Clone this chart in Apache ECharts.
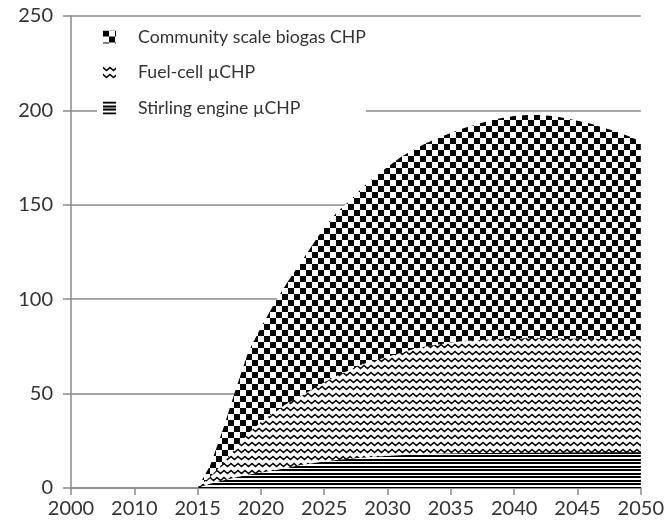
<!DOCTYPE html>
<html>
<head>
<meta charset="utf-8">
<script src="https://cdn.jsdelivr.net/npm/echarts@6/dist/echarts.min.js"></script>
<style>
  html, body { margin: 0; padding: 0; background: #fff; }
  #chart { width: 667px; height: 530px; }
</style>
</head>
<body>
<div id="chart"></div>
<script>
// x axis tick labels (unequal steps, equally spaced like the original)
const tickYears = [2000, 2010, 2015, 2020, 2025, 2030, 2035, 2040, 2045, 2050];
const years = [2015, 2016, 2017, 2018, 2019, 2020, 2021, 2022, 2023, 2024, 2025, 2026,
    2027, 2028, 2029, 2030, 2031, 2032, 2033, 2034, 2035, 2036, 2037, 2038,
    2039, 2040, 2041, 2042, 2043, 2044, 2045, 2046, 2047, 2048, 2049, 2050];
const stirling = [0, 2.3, 4, 5.5, 7, 8.2, 9.3, 10.5, 12, 13, 14, 14.8,
    15.5, 16, 16.5, 17, 17.3, 17.6, 17.9, 18.1, 18.3, 18.4, 18.5, 18.5,
    18.6, 18.6, 18.7, 18.7, 18.7, 18.8, 18.8, 18.8, 18.9, 18.9, 18.9, 18.9];
const fuelCell = [0, 3.7, 9, 15.5, 22, 26.8, 30.7, 34, 36, 39, 42, 44.7,
    47, 49.5, 51, 52.5, 54.2, 55.9, 57.1, 57.9, 58.7, 59.4, 59.8, 60.2,
    60.4, 60.7, 60.6, 60.6, 60.6, 60.4, 60.3, 60.2, 60, 59.9, 59.8, 59.7];
const community = [0, 6, 18, 31, 43, 50, 57, 63.5, 70, 76, 82, 86.5,
    89.5, 93.5, 97.5, 100.5, 103.5, 105.5, 107.5, 109.5, 111, 112.7, 114.2, 115.8,
    117, 117.7, 118.2, 118.2, 117.7, 116.8, 115.4, 114, 112.1, 110.2, 107.8, 104.9];
const names = ['Community scale biogas CHP', 'Fuel-cell \u00b5CHP', 'Stirling engine \u00b5CHP'];

// place a year on the tick index scale
function yearPos(y) {
    for (let i = 0; i < tickYears.length - 1; i++) {
        if (y <= tickYears[i + 1]) {
            return i + (y - tickYears[i]) / (tickYears[i + 1] - tickYears[i]);
        }
    }
    return tickYears.length - 1;
}
// stacked tops, summed by hand (value/value axes stack on x otherwise)
function stackPoints(layers) {
    return years.map(function (y, i) {
        let sum = 0;
        layers.forEach(function (arr) { sum += arr[i]; });
        return [yearPos(y), +sum.toFixed(2)];
    });
}

function makeCanvas(w, h, draw) {
    let c = document.createElement('canvas');
    c.width = w;
    c.height = h;
    let ctx = c.getContext('2d');
    ctx.fillStyle = '#fff';
    ctx.fillRect(0, 0, w, h);
    draw(ctx);
    return c;
}
let checker = makeCanvas(12, 12, function (ctx) {
    ctx.fillStyle = '#000';
    ctx.fillRect(0, 0, 6, 6);
    ctx.fillRect(6, 6, 6, 6);
});
let zigzag = makeCanvas(7, 7, function (ctx) {
    ctx.strokeStyle = '#000';
    ctx.lineWidth = 1.5;
    ctx.beginPath();
    ctx.moveTo(-3.5, 4.5);
    ctx.lineTo(0, 1.5);
    ctx.lineTo(3.5, 4.5);
    ctx.lineTo(7, 1.5);
    ctx.lineTo(10.5, 4.5);
    ctx.stroke();
});
let hlines = makeCanvas(4, 7, function (ctx) {
    ctx.fillStyle = '#000';
    ctx.fillRect(0, 0, 4, 2);
    ctx.fillRect(0, 4, 4, 2);
});
const patterns = {};
patterns[names[0]] = { image: checker, repeat: 'repeat' };
patterns[names[1]] = { image: zigzag, repeat: 'repeat' };
patterns[names[2]] = { image: hlines, repeat: 'repeat' };

let myChart = echarts.init(document.getElementById('chart'));
const gray = '#8a8a8a';
const font = 'Lato';

function areaSeries(name, points) {
    return {
        name: name,
        type: 'line',
        data: points,
        showSymbol: false,
        symbol: 'none',
        lineStyle: { width: 0, opacity: 0 },
        itemStyle: { color: patterns[name] },
        areaStyle: { color: patterns[name], opacity: 1 },
        emphasis: { disabled: true },
        animation: false
    };
}

let option = {
    animation: false,
    grid: { left: 71, right: 25, top: 16, bottom: 42 },
    legend: {
        orient: 'vertical',
        left: 97,
        top: 21,
        padding: [4, 0, 6, 6],
        backgroundColor: '#fff',
        icon: 'rect',
        itemWidth: 13,
        itemHeight: 13,
        itemGap: 11.5,
        data: names.map(function (n) {
            return { name: n, itemStyle: { color: patterns[n] } };
        }),
        textStyle: {
            fontFamily: font,
            fontSize: 17.7,
            color: '#333',
            lineHeight: 24,
            padding: [0, 0, 0, 17]
        }
    },
    xAxis: {
        type: 'value',
        min: 0,
        max: tickYears.length - 1,
        interval: 1,
        axisLine: { show: true, lineStyle: { color: gray, width: 1.5 } },
        axisTick: { show: true, length: 7, lineStyle: { color: gray, width: 1.5 } },
        splitLine: { show: false },
        axisLabel: {
            fontFamily: font,
            fontSize: 20,
            color: '#333',
            margin: 11,
            formatter: function (v) { return String(tickYears[Math.round(v)]); }
        }
    },
    yAxis: {
        type: 'value',
        min: 0,
        max: 250,
        interval: 50,
        axisLine: { show: true, lineStyle: { color: gray, width: 1.5 } },
        axisTick: { show: true, length: 8, lineStyle: { color: gray, width: 1.5 } },
        splitLine: { show: true, lineStyle: { color: gray, width: 1.5 } },
        axisLabel: {
            fontFamily: font,
            fontSize: 20,
            color: '#333',
            margin: 18
        }
    },
    // drawn back to front: total first, bottom layer last
    series: [
        areaSeries(names[0], stackPoints([stirling, fuelCell, community])),
        areaSeries(names[1], stackPoints([stirling, fuelCell])),
        areaSeries(names[2], stackPoints([stirling]))
    ]
};
myChart.setOption(option);
</script>
</body>
</html>
